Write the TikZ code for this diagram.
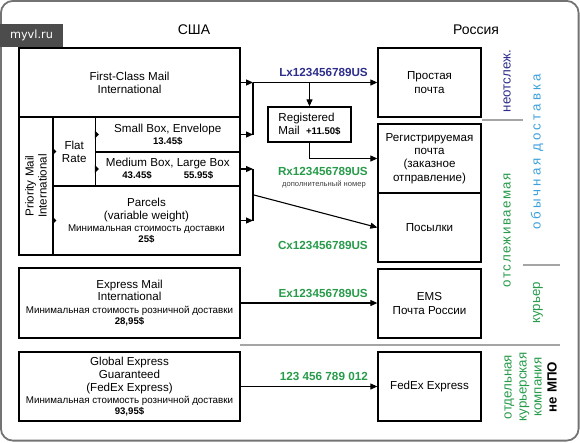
\documentclass[tikz,border=0pt]{standalone}
\usepackage{fontspec}
\setmainfont{Liberation Sans}
\newfontfamily\wideA[LetterSpace=23]{Liberation Sans}
\newfontfamily\wideB[LetterSpace=11]{Liberation Sans}
\newfontfamily\wmfont{DejaVu Sans}
\usetikzlibrary{arrows.meta}
\definecolor{navy}{RGB}{45,45,140}
\definecolor{codegreen}{RGB}{40,155,75}
\definecolor{skyblue}{RGB}{60,160,220}
\definecolor{sepgray}{RGB}{165,165,165}
\begin{document}
\begin{tikzpicture}[x=1pt,y=-1pt,box/.style={draw=black,line width=1.3pt,inner sep=1pt,align=center,font=\fontsize{11.6}{13.2}\selectfont},arr/.style={-{Triangle[length=7pt,width=6pt]},line width=1.1pt},code/.style={anchor=east,inner sep=0pt,font=\fontsize{11.7}{13}\selectfont\bfseries},sep/.style={draw=sepgray,line width=1.6pt},side/.style={rotate=90,align=center,inner sep=0pt,font=\fontsize{13.3}{15}\selectfont}]
\def\costfont{\fontsize{9.8}{11}\selectfont}
\def\pricefont{\fontsize{9.6}{11}\selectfont\bfseries}
\def\bus{253}

\useasboundingbox (0,0) rectangle (580,442);
\draw[line width=1.8pt,draw=black!55,rounded corners=12pt] (0.9,0.9) rectangle (578.6,440.6);
\node[fill=black!70,text=white,minimum width=63pt,minimum height=23pt,inner sep=0pt,font=\wmfont\fontsize{11.3}{12}\selectfont] (WM) at (31.5,35.5) {myvl.ru};

\node[font=\fontsize{14}{16}\selectfont] (US) at (194,30) {США};
\node[font=\fontsize{14}{16}\selectfont] (RU) at (476,30) {Россия};

% USA side
\node[box,minimum width=221pt,minimum height=69pt] (FC) at (129.5,82.5) {First-Class Mail\\International};
\node[box,rotate=90,minimum width=138pt,minimum height=34pt] (PM) at (36,186) {Priority Mail\\International};
\node[box,minimum width=42.5pt,minimum height=69pt] (FR) at (74.25,151.5) {Flat\\Rate};
\node[box,minimum width=144.5pt,minimum height=35pt] (SB) at (167.75,134.5) {Small Box, Envelope\\[-1pt]{\pricefont 13.45\$}};
\node[box,minimum width=144.5pt,minimum height=34pt] (MB) at (167.75,169) {Medium Box, Large Box\\[-1pt]{\pricefont 43.45\$\hspace{32pt}55.95\$}};
\node[box,minimum width=187pt,minimum height=69pt] (PA) at (146.5,220.5) {Parcels\\(variable weight)\\[-1.5pt]{\costfont Минимальная стоимость доставки}\\[-2pt]{\pricefont 25\$}};
\node[box,minimum width=221pt,minimum height=70pt] (EX) at (129.5,303) {Express Mail\\[-1pt]International\\[-1pt]{\costfont Минимальная стоимость розничной доставки}\\[-2pt]{\pricefont 28,95\$}};
\node[box,minimum width=221pt,minimum height=69pt] (GE) at (129.5,386.5) {Global Express\\Guaranteed\\(FedEx Express)\\[-1pt]{\costfont Минимальная стоимость розничной доставки}\\[-2.5pt]{\pricefont 93,95\$}};
\foreach \n in {FR,SB,MB,PA}
  \fill (\n.west) ++(0,-4) -- ++(4,4) -- ++(-4,4) -- cycle;

% Russia side
\node[box,minimum width=103pt,minimum height=69pt] (SP) at (429.5,82.5) {Простая\\почта};
\node[box,minimum width=103pt,minimum height=69pt] (RP) at (429.5,158.5) {Регистрируемая\\почта\\(заказное\\отправление)};
\node[box,minimum width=103pt,minimum height=69pt] (PO) at (429.5,227.5) {Посылки};
\node[box,minimum width=103pt,minimum height=69pt] (EMS) at (429.5,303.5) {EMS\\Почта России};
\node[box,minimum width=103pt,minimum height=69pt] (FX) at (429.5,386.5) {FedEx Express};
\node[box,align=left,minimum width=83pt,minimum height=35pt] (RM) at (309.5,124.5) {Registered\\Mail\ \ {\pricefont +11.50\$}};

% connectors
\coordinate (b1) at (\bus,82.5);
\coordinate (b2) at (\bus,134.5);
\coordinate (b3) at (\bus,169);
\coordinate (b4) at (\bus,220.5);
\coordinate (b5) at (\bus,194.75);
\draw[arr] (FC.east) -- (b1);
\draw[arr] (SB.east) -- (b2);
\draw[arr] (MB.east) -- (b3);
\draw[arr] (PA.east) -- (b4);
\draw[line width=1.1pt] (b1) -- (b2);
\draw[line width=1.1pt] (b3) -- (b4);
\draw[arr] (b1) -- (SP.west);
\draw[arr] (RM.north |- b1) -- (RM.north);
\draw[arr] (RM.south) |- (RP.west);
\draw[arr] (b5) -- (PO.west);
\draw[arr] (EX.east) -- (EX.east -| EMS.west);
\draw[arr] (GE.east) -- (FX.west);

\node[code,text=navy] (LX) at (368,72) {Lx123456789US};
\node[code,text=codegreen] (RX) at (368,171) {Rx123456789US};
\node[anchor=east,inner sep=0pt,text=black!75,font=\fontsize{7.6}{8}\selectfont] (DN) at (366,184) {дополнительный номер};
\node[code,text=codegreen] (CX) at (368,245) {Cx123456789US};
\node[code,text=codegreen] (EXC) at (368,293) {Ex123456789US};
\node[code,text=codegreen] (FXC) at (368,376) {123 456 789 012};

% side labels
\node[side,text=navy] (NT) at (507,81) {неотслеж.};
\node[side,text=skyblue,font=\wideA\fontsize{13.3}{15}\selectfont] (OD) at (537,152) {обычная доставка};
\node[side,text=codegreen,font=\wideB\fontsize{13.3}{15}\selectfont] (OT) at (507,230) {отслеживаемая};
\node[side,text=codegreen] (KU) at (538,303) {курьер};
\node[side,text=codegreen] (KK) at (530.5,387) {отдельная\\курьерская\\компания\\\textcolor{black}{\bfseries не МПО}};
\draw[sep] (482,120) -- (523,120);
\draw[sep] (523,265) -- (560,265);
\draw[sep] (240,345) -- (560,345);
\end{tikzpicture}
\end{document}
